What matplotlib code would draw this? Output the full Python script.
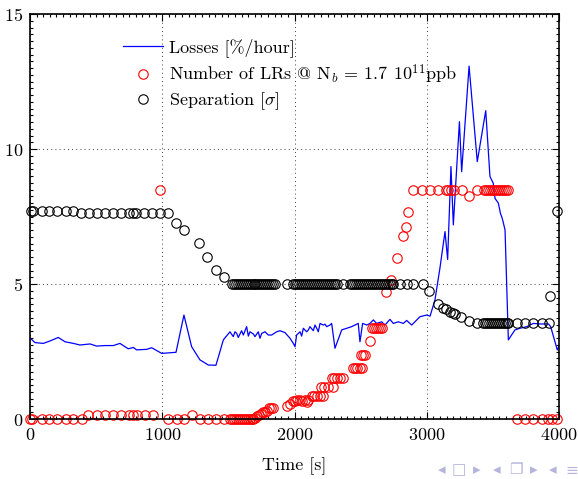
import numpy as np
import matplotlib
matplotlib.use("Agg")
import matplotlib.pyplot as plt
from matplotlib.ticker import MultipleLocator

plt.rcParams.update({
    "font.family": ["cmr10", "DejaVu Serif"],
    "mathtext.fontset": "cm",
    "axes.formatter.use_mathtext": True,
    "font.size": 13,
})

# --- losses [%/hour] vs time [s] -------------------------------------------
loss_t = [0, 38, 101, 151, 214, 265, 328, 378, 454, 504, 567, 630, 680, 743,
          781, 806, 882, 920, 996, 1104, 1164, 1222, 1285, 1348, 1406, 1462,
          1512, 1537, 1550, 1563, 1575, 1600, 1613, 1638, 1651, 1663, 1689,
          1701, 1726, 1739, 1752, 1777, 1802, 1827, 1865, 1890, 1928, 1966,
          1991, 2004, 2016, 2042, 2054, 2067, 2092, 2105, 2117, 2142, 2155,
          2168, 2180, 2193, 2218, 2231, 2243, 2268, 2281, 2306, 2357, 2395,
          2432, 2457, 2482, 2495, 2515, 2546, 2571, 2596, 2621, 2659, 2684,
          2722, 2747, 2785, 2823, 2848, 2886, 2949, 3000, 3025, 3062, 3100,
          3138, 3158, 3183, 3201, 3247, 3264, 3320, 3382,
          3446, 3478, 3503, 3516, 3541, 3558, 3567, 3575, 3592, 3617,
          3667, 3705, 3756, 3806, 3857, 3920, 3937, 3987, 4000]
loss_v = [3.0, 2.83, 2.80, 2.89, 3.02, 2.86, 2.80, 2.74, 2.78, 2.70, 2.72,
          2.72, 2.80, 2.60, 2.65, 2.56, 2.58, 2.64, 2.43, 2.47, 3.85, 2.68,
          2.19, 2.0, 1.99, 2.93, 3.23, 3.05, 3.23, 3.17, 3.02, 3.27, 3.11,
          3.42, 3.07, 3.23, 3.15, 3.05, 3.23, 2.99, 3.17, 3.23, 3.11, 3.11,
          3.23, 3.27, 3.20, 2.99, 2.80, 2.68, 3.11, 3.23, 3.07, 3.36, 3.23,
          3.30, 3.42, 3.27, 3.48, 3.36, 3.23, 3.54, 3.48, 3.51, 3.42, 3.48,
          3.54, 2.62, 3.30, 3.36, 3.42, 3.48, 3.54, 2.86, 3.54, 3.48, 3.54,
          3.67, 3.54, 3.60, 3.48, 3.69, 3.54, 3.60, 3.54, 3.65, 3.48, 3.79,
          3.85, 3.81, 4.41, 5.6, 6.94, 5.91, 9.35, 7.19, 11.01, 9.16,
          13.07, 9.53, 11.42, 8.98, 8.73, 8.17, 8.0, 7.6,
          7.49, 7.35, 7.0, 2.93, 3.30, 3.36, 3.42, 3.54, 3.52, 3.52, 3.42,
          2.56, 2.7]

# --- number of long-range encounters -------------------------------------
lr_t = [0, 18, 88, 146, 206, 270, 328, 391, 441, 504, 567, 630, 688, 751,
        781, 806, 869, 928, 985, 1046, 1109, 1167, 1222, 1285, 1346, 1406,
        1467, 1512, 1527, 1542, 1557, 1572, 1587, 1602, 1617, 1632, 1647,
        1662, 1677, 1689, 1705, 1720, 1735, 1750, 1765, 1780, 1795, 1810,
        1825, 1840, 1941, 1966, 1991, 2004, 2020, 2040, 2060, 2080, 2092,
        2104, 2130, 2150, 2170, 2193, 2218, 2200, 2225, 2256, 2294, 2281,
        2300, 2320, 2345, 2369, 2444, 2460, 2475, 2495, 2508, 2500, 2515,
        2533, 2571, 2584, 2600, 2615, 2630, 2645, 2659, 2692, 2727, 2773,
        2818, 2843, 2861, 2898, 2962, 3025, 3088, 3146, 3163, 3181, 3206,
        3264, 3322, 3382, 3433, 3450, 3465, 3480, 3495, 3510, 3525, 3540,
        3555, 3570, 3585, 3600, 3617, 3680, 3743, 3806, 3869, 3919, 3945,
        3983]
lr_v = [0, 0, 0, 0, 0, 0, 0, 0, 0.15, 0.15, 0.15, 0.15, 0.15, 0.15, 0.15,
        0.15, 0.15, 0.15, 8.5, 0, 0, 0, 0.15, 0, 0, 0, 0, 0, 0, 0, 0, 0, 0,
        0, 0, 0, 0, 0, 0, 0, 0.05, 0.10, 0.15, 0.20, 0.27, 0.27, 0.31, 0.39,
        0.39, 0.39, 0.49, 0.56, 0.68, 0.68, 0.70, 0.70, 0.68, 0.70, 0.64,
        0.70, 0.85, 0.85, 0.85, 0.85, 0.85, 1.2, 1.2, 1.2, 1.2, 1.51, 1.51,
        1.51, 1.51, 1.51, 1.88, 1.88, 1.88, 1.88, 1.88, 2.37, 2.37, 2.37,
        2.89, 3.38, 3.38, 3.38, 3.38, 3.38, 3.38, 4.72, 5.15, 5.98, 6.79,
        7.12, 7.65, 8.48, 8.48, 8.48, 8.48, 8.48, 8.48, 8.48, 8.48, 8.48,
        8.26, 8.48, 8.48, 8.48, 8.48, 8.48, 8.48, 8.48, 8.48, 8.48, 8.48,
        8.48, 8.48, 8.48, 8.48, 0, 0, 0, 0, 0, 0, 0]

# --- beam-beam separation [sigma] ----------------------------------------
sep_t = [5, 25, 88, 146, 206, 270, 328, 386, 446, 507, 567, 628, 688, 749,
         781, 799, 864, 925, 985, 1046, 1104, 1164, 1280, 1341, 1404, 1467,
         1525, 1540, 1555, 1570, 1585, 1600, 1615, 1630, 1645, 1660, 1675,
         1690, 1705, 1720, 1735, 1750, 1765, 1780, 1795, 1810, 1825, 1840,
         1852, 1941, 1991, 2005, 2020, 2035, 2050, 2065, 2080, 2095, 2110,
         2125, 2140, 2155, 2170, 2185, 2200, 2215, 2230, 2245, 2260, 2275,
         2290, 2305, 2319, 2369, 2420, 2435, 2450, 2465, 2480, 2495, 2510,
         2525, 2540, 2555, 2570, 2585, 2600, 2615, 2630, 2645, 2660, 2675,
         2690, 2705, 2720, 2735, 2747, 2798, 2848, 2898, 2969, 3019, 3088,
         3125, 3146, 3176, 3195, 3213, 3257, 3322, 3382, 3427, 3440, 3455,
         3470, 3485, 3500, 3515, 3530, 3545, 3560, 3575, 3590, 3605, 3617,
         3680, 3743, 3806, 3869, 3927, 3932, 3983]
sep_v = [7.70, 7.70, 7.70, 7.70, 7.70, 7.70, 7.70, 7.62, 7.62, 7.62, 7.62,
         7.62, 7.62, 7.62, 7.62, 7.62, 7.62, 7.62, 7.62, 7.62, 7.25, 7.0,
         6.51, 6.01, 5.52, 5.27] + [5.0] * 75 + [
         4.75, 4.26, 4.12, 4.06, 3.97, 3.92, 3.89, 3.79, 3.64, 3.54] + [3.54] * 14 + [
         3.54, 3.54, 3.54, 3.54, 3.54, 4.56, 7.72]

fig = plt.figure(figsize=(5.78, 4.79), dpi=100)
ax = fig.add_axes([30 / 578, 1 - 419 / 479, 529 / 578, 405 / 479])

ax.plot(loss_t, loss_v, color="#0000ff", lw=0.9,
        label="Losses [%/hour]")
ax.plot(lr_t, lr_v, ls="none", marker="o", ms=6.8, mfc="none", mec="#ff0000",
        mew=0.8, clip_on=False,
        label=r"Number of LRs @ N$_b$ = 1.7 10$^{11}$ppb")
ax.plot(sep_t, sep_v, ls="none", marker="o", ms=6.8, mfc="none", mec="black",
        mew=0.8, clip_on=False, label=r"Separation [$\sigma$]")

ax.set_xlim(0, 4000)
ax.set_ylim(0, 15)
ax.set_xticks([0, 1000, 2000, 3000, 4000])
ax.set_yticks([0, 5, 10, 15])
ax.xaxis.set_minor_locator(MultipleLocator(50))
ax.yaxis.set_minor_locator(MultipleLocator(0.25))
ax.tick_params(which="both", direction="in", top=True, right=True,
               labelsize=13, width=0.8)
ax.tick_params(which="major", length=5)
ax.tick_params(axis="x", which="major", pad=6)
ax.tick_params(axis="y", which="major", pad=5)
ax.tick_params(which="minor", length=2)
ax.grid(True, which="major", color="black", ls=(0, (1, 4)), lw=0.6)
for s in ax.spines.values():
    s.set_linewidth(1.2)

ax.set_xlabel("Time [s]", fontsize=13, labelpad=10)

ax.legend(loc="upper left", bbox_to_anchor=(0.159, 0.962), frameon=False,
          borderpad=0, handlelength=2.2, handletextpad=0.35,
          labelspacing=0.27, fontsize=13)

# beamer navigation symbols along the bottom edge
nav_glyphs = ["◂", "□", "▸", "◂", "❐", "▸", "◂", "≡"]
nav_x = [442, 459, 477, 497, 516, 534, 553, 572]
for g, xp in zip(nav_glyphs, nav_x):
    fig.text(xp / 578, 1 - 470 / 479, g, color="#b4b4dc", fontsize=11,
             family="DejaVu Sans", ha="center", va="center")

fig.savefig("out.png", dpi=100)
